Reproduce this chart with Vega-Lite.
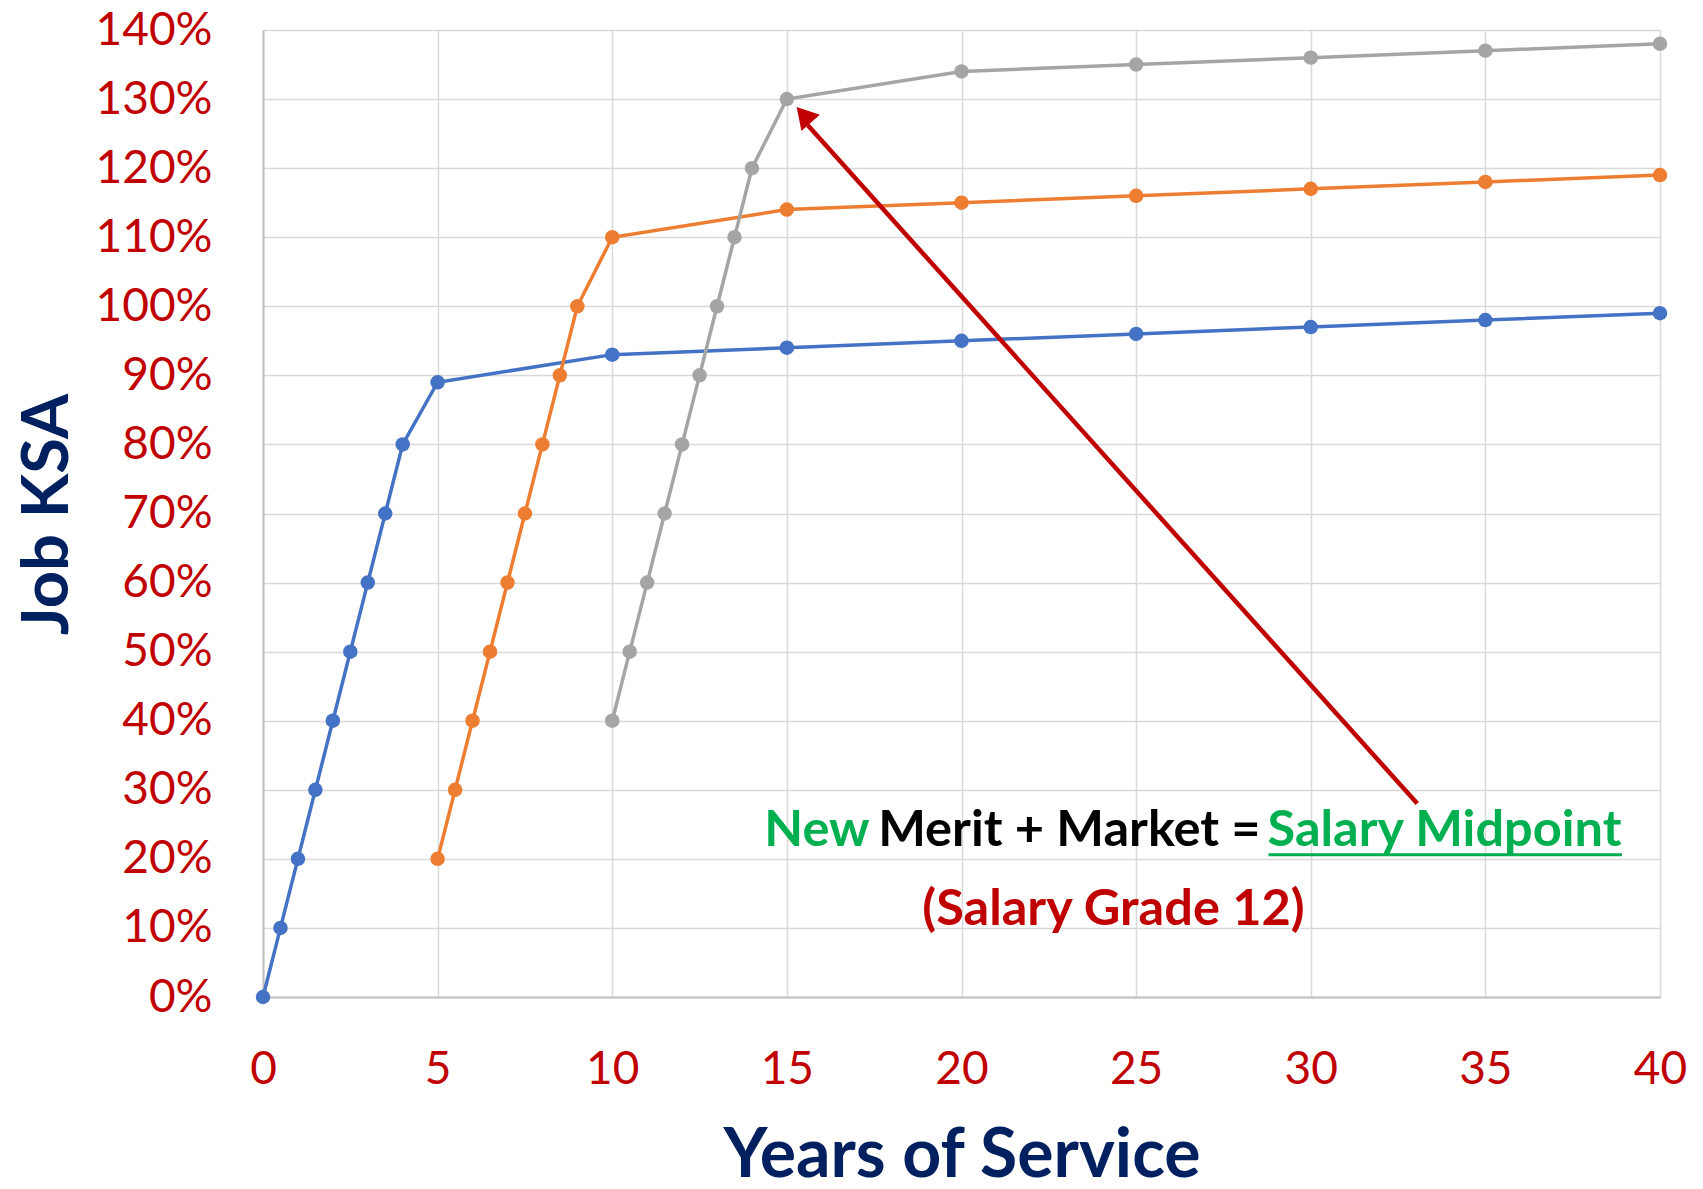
{
  "$schema": "https://vega.github.io/schema/vega-lite/v6.json",
  "width": 1397,
  "height": 967,
  "autosize": {"type": "none"},
  "padding": {"left": 263, "top": 30, "right": 43, "bottom": 192},
  "background": "white",
  "config": {"view": {"stroke": null}, "font": "Lato"},
  "datasets": {
    "series": [
      {"s": "A", "x": 0, "y": 0}, {"s": "A", "x": 0.5, "y": 0.1}, {"s": "A", "x": 1, "y": 0.2}, {"s": "A", "x": 1.5, "y": 0.3},
      {"s": "A", "x": 2, "y": 0.4}, {"s": "A", "x": 2.5, "y": 0.5}, {"s": "A", "x": 3, "y": 0.6}, {"s": "A", "x": 3.5, "y": 0.7},
      {"s": "A", "x": 4, "y": 0.8}, {"s": "A", "x": 5, "y": 0.89}, {"s": "A", "x": 10, "y": 0.93}, {"s": "A", "x": 15, "y": 0.94},
      {"s": "A", "x": 20, "y": 0.95}, {"s": "A", "x": 25, "y": 0.96}, {"s": "A", "x": 30, "y": 0.97}, {"s": "A", "x": 35, "y": 0.98},
      {"s": "A", "x": 40, "y": 0.99},
      {"s": "B", "x": 5, "y": 0.2}, {"s": "B", "x": 5.5, "y": 0.3}, {"s": "B", "x": 6, "y": 0.4}, {"s": "B", "x": 6.5, "y": 0.5},
      {"s": "B", "x": 7, "y": 0.6}, {"s": "B", "x": 7.5, "y": 0.7}, {"s": "B", "x": 8, "y": 0.8}, {"s": "B", "x": 8.5, "y": 0.9},
      {"s": "B", "x": 9, "y": 1.0}, {"s": "B", "x": 10, "y": 1.1}, {"s": "B", "x": 15, "y": 1.14}, {"s": "B", "x": 20, "y": 1.15},
      {"s": "B", "x": 25, "y": 1.16}, {"s": "B", "x": 30, "y": 1.17}, {"s": "B", "x": 35, "y": 1.18}, {"s": "B", "x": 40, "y": 1.19},
      {"s": "C", "x": 10, "y": 0.4}, {"s": "C", "x": 10.5, "y": 0.5}, {"s": "C", "x": 11, "y": 0.6}, {"s": "C", "x": 11.5, "y": 0.7},
      {"s": "C", "x": 12, "y": 0.8}, {"s": "C", "x": 12.5, "y": 0.9}, {"s": "C", "x": 13, "y": 1.0}, {"s": "C", "x": 13.5, "y": 1.1},
      {"s": "C", "x": 14, "y": 1.2}, {"s": "C", "x": 15, "y": 1.3}, {"s": "C", "x": 20, "y": 1.34}, {"s": "C", "x": 25, "y": 1.35},
      {"s": "C", "x": 30, "y": 1.36}, {"s": "C", "x": 35, "y": 1.37}, {"s": "C", "x": 40, "y": 1.38}
    ]
  },
  "layer": [
    {
      "data": {"name": "series"},
      "mark": {"type": "line", "strokeWidth": 3.5},
      "encoding": {
        "x": {
          "field": "x", "type": "quantitative",
          "scale": {"domain": [0, 40], "nice": false, "zero": false},
          "axis": {
            "values": [0, 5, 10, 15, 20, 25, 30, 35, 40],
            "title": "Years of Service",
            "titleFont": "Lato", "titleFontWeight": "bold", "titleFontSize": 68, "titleColor": "#002060",
            "titleX": 698.5, "titleY": 179, "titleAlign": "center", "titleBaseline": "alphabetic",
            "labelFont": "Lato", "labelFontSize": 46, "labelColor": "#C00000", "labelFontWeight": "normal",
            "labelBaseline": "alphabetic", "labelPadding": 86, "ticks": false, "tickSize": 0,
            "grid": true, "gridColor": "#D9D9D9", "gridWidth": 1.5,
            "domainColor": "#BFBFBF", "domainWidth": 2, "labelFlush": false, "labelOverlap": false
          }
        },
        "y": {
          "field": "y", "type": "quantitative",
          "scale": {"domain": [0, 1.4], "nice": false, "zero": false},
          "axis": {
            "values": [0, 0.1, 0.2, 0.3, 0.4, 0.5, 0.6, 0.7, 0.8, 0.9, 1.0, 1.1, 1.2, 1.3, 1.4],
            "format": ".0%",
            "title": "Job KSA",
            "titleFont": "Lato", "titleFontWeight": "bold", "titleFontSize": 65, "titleColor": "#002060",
            "titleAngle": -90, "titleX": -196, "titleY": 484, "titleAlign": "center", "titleBaseline": "alphabetic",
            "labelFont": "Lato", "labelFontSize": 46, "labelColor": "#C00000",
            "labelAlign": "right", "labelBaseline": "middle", "labelPadding": 51, "ticks": false, "tickSize": 0,
            "grid": true, "gridColor": "#D9D9D9", "gridWidth": 1.5,
            "domainColor": "#BFBFBF", "domainWidth": 2, "labelFlush": false, "labelOverlap": false
          }
        },
        "color": {
          "field": "s", "type": "nominal",
          "scale": {"domain": ["A", "B", "C"], "range": ["#4472C4", "#ED7D31", "#A5A5A5"]},
          "legend": null
        }
      }
    },
    {
      "data": {"name": "series"},
      "mark": {"type": "point", "filled": true, "opacity": 1, "size": 210},
      "encoding": {
        "x": {"field": "x", "type": "quantitative"},
        "y": {"field": "y", "type": "quantitative"},
        "color": {"field": "s", "type": "nominal", "legend": null}
      }
    },
    {
      "data": {"values": [{"x": 33.05, "y": 0.28, "x2": 15.6, "y2": 1.262}]},
      "mark": {"type": "rule", "color": "#C00000", "strokeWidth": 4.5},
      "encoding": {
        "x": {"field": "x", "type": "quantitative"},
        "y": {"field": "y", "type": "quantitative"},
        "x2": {"field": "x2"},
        "y2": {"field": "y2"}
      }
    },
    {
      "data": {"values": [{"x": 15.48, "y": 1.277}]},
      "mark": {"type": "point", "shape": "triangle-up", "angle": 318.7, "size": 600, "filled": true, "opacity": 1, "color": "#C00000"},
      "encoding": {
        "x": {"field": "x", "type": "quantitative"},
        "y": {"field": "y", "type": "quantitative"}
      }
    },
    {
      "data": {"values": [{"x": 15.86, "y": 0.2405, "t": "New"}, {"x": 33.83, "y": 0.2405, "t": "Salary Midpoint"}]},
      "mark": {"type": "text", "font": "Lato", "fontWeight": "bold", "fontSize": 50.5, "color": "#00B050", "align": "center", "baseline": "middle"},
      "encoding": {
        "x": {"field": "x", "type": "quantitative"},
        "y": {"field": "y", "type": "quantitative"},
        "text": {"field": "t"}
      }
    },
    {
      "data": {"values": [{"x": 23.09, "y": 0.2405, "t": "Merit + Market ="}]},
      "mark": {"type": "text", "font": "Lato", "fontWeight": "bold", "fontSize": 50.5, "color": "#000000", "align": "center", "baseline": "middle"},
      "encoding": {
        "x": {"field": "x", "type": "quantitative"},
        "y": {"field": "y", "type": "quantitative"},
        "text": {"field": "t"}
      }
    },
    {
      "data": {"values": [{"x": 28.79, "x2": 38.91, "y": 0.206}]},
      "mark": {"type": "rule", "color": "#00B050", "strokeWidth": 3},
      "encoding": {
        "x": {"field": "x", "type": "quantitative"},
        "x2": {"field": "x2"},
        "y": {"field": "y", "type": "quantitative"}
      }
    },
    {
      "data": {"values": [{"x": 24.35, "y": 0.126, "t": "(Salary Grade 12)"}]},
      "mark": {"type": "text", "font": "Lato", "fontWeight": "bold", "fontSize": 50.5, "color": "#C00000", "align": "center", "baseline": "middle"},
      "encoding": {
        "x": {"field": "x", "type": "quantitative"},
        "y": {"field": "y", "type": "quantitative"},
        "text": {"field": "t"}
      }
    }
  ]
}
